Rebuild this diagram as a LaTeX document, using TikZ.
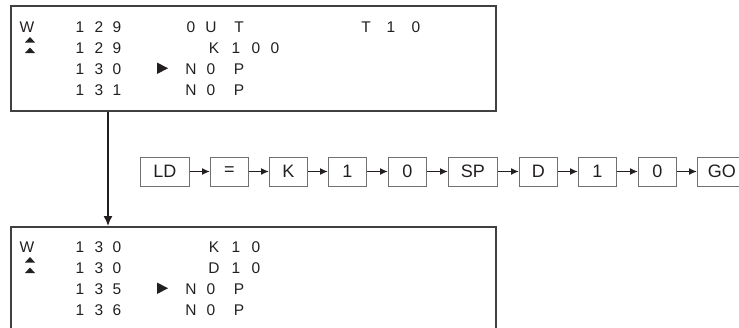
\documentclass[tikz,border=0pt]{standalone}
\usepackage{fontspec}
\setmainfont{Liberation Sans}
\usetikzlibrary{arrows.meta}
\definecolor{ink}{HTML}{231F20}
\definecolor{frame}{HTML}{404040}
\definecolor{keyline}{HTML}{707070}
\tikzset{
  screenbox/.style={draw=frame, line width=1.6pt, anchor=north west, inner sep=0pt},
  scr/.style={anchor=base, inner sep=0pt, text=ink, font=\fontsize{15.5pt}{15.5pt}\selectfont},
  keybox/.style={draw=keyline, line width=0.8pt, anchor=west, minimum width=38pt,
    minimum height=29pt, inner sep=0pt, text=ink, font=\fontsize{18pt}{18pt}\selectfont},
  widekey/.style={keybox, minimum width=49pt},
  keyarrow/.style={draw=ink, line width=1.5pt, -{Latex[length=8pt,width=7pt]}},
  downarrow/.style={draw=ink, line width=1.5pt, -{Latex[length=10pt,width=9pt]}}
}
\newcommand{\upmarks}[1]{%
  \fill[ink] (25,#1-10.5) -- (35,#1-10.5) -- (30,#1-16) -- cycle;
  \fill[ink] (25,#1) -- (35,#1) -- (30,#1-5.5) -- cycle;}
\newcommand{\cursor}[1]{%
  \fill[ink] (157,#1) -- (157,#1-11.5) -- (168,#1-5.75) -- cycle;}
\begin{document}
\begin{tikzpicture}[x=1pt,y=-1pt]
\useasboundingbox (0,0) rectangle (739,327);
\clip (0,0) rectangle (739,327);

% screens
\node[screenbox, minimum width=485pt, minimum height=105pt] (top) at (10,5) {};
\node[screenbox, minimum width=485pt, minimum height=140pt] (bot) at (10,226) {};

% top screen text
\node[scr] (tw) at (27,32) {W};
\node[scr] (ta1) at (80,32) {1};
\node[scr] (ta2) at (99,32) {2};
\node[scr] (ta3) at (117,32) {9};
\node[scr] (ta4) at (191,32) {0};
\node[scr] (ta5) at (211,32) {U};
\node[scr] (ta6) at (239,32) {T};
\node[scr] (ta7) at (366,32) {T};
\node[scr] (ta8) at (391,32) {1};
\node[scr] (ta9) at (416,32) {0};
\upmarks{53}
\node[scr] (tb1) at (80,53) {1};
\node[scr] (tb2) at (99,53) {2};
\node[scr] (tb3) at (117,53) {9};
\node[scr] (tb4) at (214,53) {K};
\node[scr] (tb5) at (236,53) {1};
\node[scr] (tb6) at (256,53) {0};
\node[scr] (tb7) at (275,53) {0};
\node[scr] (tc1) at (80,74) {1};
\node[scr] (tc2) at (99,74) {3};
\node[scr] (tc3) at (117,74) {0};
\cursor{74}
\node[scr] (tc4) at (191,74) {N};
\node[scr] (tc5) at (211,74) {0};
\node[scr] (tc6) at (239,74) {P};
\node[scr] (td1) at (80,95) {1};
\node[scr] (td2) at (99,95) {3};
\node[scr] (td3) at (117,95) {1};
\node[scr] (td4) at (191,95) {N};
\node[scr] (td5) at (211,95) {0};
\node[scr] (td6) at (239,95) {P};

% bottom screen text
\node[scr] (bw) at (27,252) {W};
\node[scr] (ba1) at (80,252) {1};
\node[scr] (ba2) at (99,252) {3};
\node[scr] (ba3) at (117,252) {0};
\node[scr] (ba4) at (214,252) {K};
\node[scr] (ba5) at (236,252) {1};
\node[scr] (ba6) at (256,252) {0};
\upmarks{273}
\node[scr] (bb1) at (80,273) {1};
\node[scr] (bb2) at (99,273) {3};
\node[scr] (bb3) at (117,273) {0};
\node[scr] (bb4) at (214,273) {D};
\node[scr] (bb5) at (236,273) {1};
\node[scr] (bb6) at (256,273) {0};
\node[scr] (bc1) at (80,294) {1};
\node[scr] (bc2) at (99,294) {3};
\node[scr] (bc3) at (117,294) {5};
\cursor{294}
\node[scr] (bc4) at (191,294) {N};
\node[scr] (bc5) at (211,294) {0};
\node[scr] (bc6) at (239,294) {P};
\node[scr] (bd1) at (80,315) {1};
\node[scr] (bd2) at (99,315) {3};
\node[scr] (bd3) at (117,315) {6};
\node[scr] (bd4) at (191,315) {N};
\node[scr] (bd5) at (211,315) {0};
\node[scr] (bd6) at (239,315) {P};

% arrow between screens
\coordinate (ax) at (108,0);
\draw[downarrow] (top.south -| ax) -- (bot.north -| ax);

% key sequence
\node[widekey] (k1) at (140,171.5) {LD};
\node[keybox] (k2) at (210,171.5) {=};
\node[keybox] (k3) at (269,171.5) {K};
\node[keybox] (k4) at (328,171.5) {1};
\node[keybox] (k5) at (388,171.5) {0};
\node[widekey] (k6) at (448,171.5) {SP};
\node[keybox] (k7) at (519,171.5) {D};
\node[keybox] (k8) at (578,171.5) {1};
\node[keybox] (k9) at (638,171.5) {0};
\node[widekey] (k10) at (697,171.5) {GO};
\foreach \a/\b in {k1/k2,k2/k3,k3/k4,k4/k5,k5/k6,k6/k7,k7/k8,k8/k9,k9/k10}
  \draw[keyarrow] (\a.east) -- (\b.west);
\end{tikzpicture}
\end{document}
